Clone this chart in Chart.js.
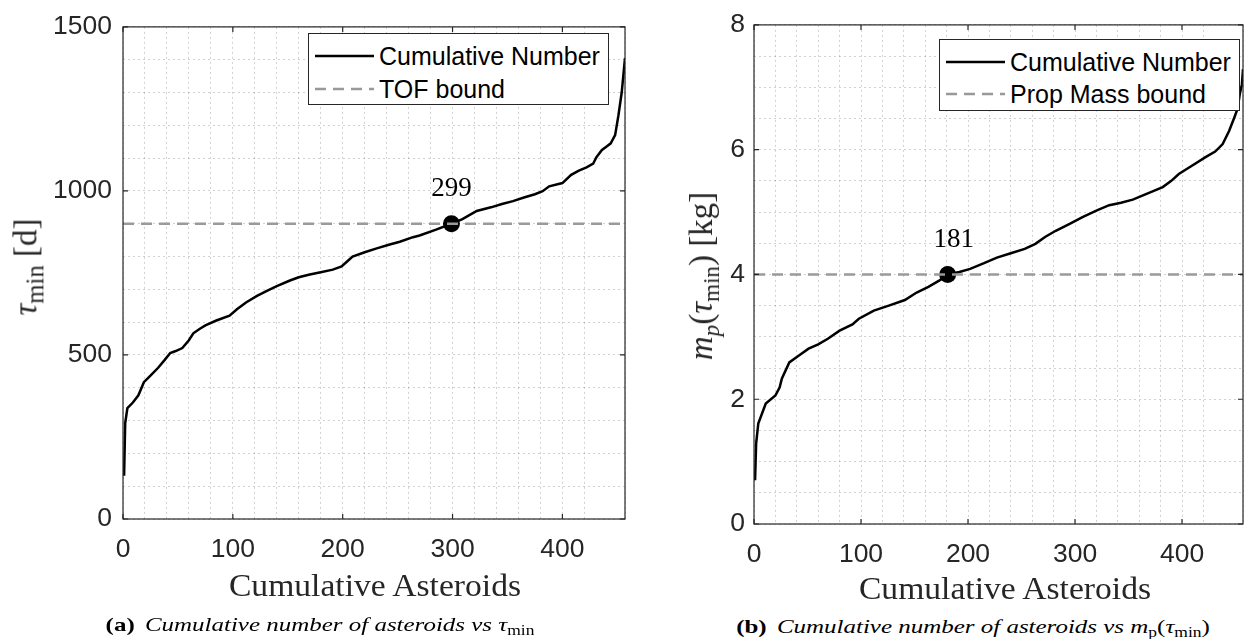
<!DOCTYPE html>
<html>
<head>
<meta charset="utf-8">
<script src="https://cdn.jsdelivr.net/npm/chart.js@4.4.0/dist/chart.umd.min.js"></script>
<style>
  html, body { margin: 0; padding: 0; background: #fff; }
  body { width: 1258px; height: 639px; position: relative; overflow: hidden; color: #262626; font-family: 'Liberation Serif', 'Times New Roman', serif; }
  canvas { display: block; position: absolute; top: 0; }
  .txt { position: absolute; white-space: nowrap; transform: translate(-50%, -50%); line-height: 1; }
  .ytitle { transform: translate(-50%, -50%) rotate(-90deg); font-size: 33px; }
  .axtitle { font-size: 32px; }
  .xtitle { transform: translate(-50%, -50%) scaleX(1.05); }
  .caption { font-size: 19.5px; color: #000; transform: translate(-50%, -50%) scaleX(1.28); }
  .caption b { font-style: normal; margin-right: 8px; }
  .caption i { font-style: italic; }
  .legend { position: absolute; background: #fff; border: 1px solid #262626; box-sizing: border-box; width: 301px; height: 72px;
            font-family: 'Liberation Sans', Arial, sans-serif; font-size: 25px; color: #000; z-index: 2; }
  .legend .row { position: absolute; left: 0; height: 32px; line-height: 32px; width: 100%; }
  .legend svg { position: absolute; left: 6px; top: 0; }
  .legend span { position: absolute; left: 70px; }
  sub { font-size: 0.7em; vertical-align: -0.3em; font-style: normal; }
  .ytitle.tau sub { font-size: 0.75em; }
</style>
</head>
<body>
<canvas id="chartTau" width="640" height="600" style="left:0"></canvas>
<canvas id="chartMass" width="618" height="600" style="left:640px"></canvas>

<div class="legend" style="left:308px; top:33px;">
  <div class="row" style="top:6px"><svg width="60" height="32"><line x1="0" y1="16" x2="59" y2="16" stroke="#000" stroke-width="2.5"/></svg><span>Cumulative Number</span></div>
  <div class="row" style="top:39px"><svg width="60" height="32"><line x1="0" y1="16" x2="59" y2="16" stroke="#999" stroke-width="2.5" stroke-dasharray="11 7"/></svg><span>TOF bound</span></div>
</div>
<div class="legend" style="left:939px; top:39px;">
  <div class="row" style="top:6px"><svg width="60" height="32"><line x1="0" y1="16" x2="59" y2="16" stroke="#000" stroke-width="2.5"/></svg><span>Cumulative Number</span></div>
  <div class="row" style="top:38px"><svg width="60" height="32"><line x1="0" y1="16" x2="59" y2="16" stroke="#999" stroke-width="2.5" stroke-dasharray="11 7"/></svg><span>Prop Mass bound</span></div>
</div>

<div class="txt ytitle tau" style="left:29px; top:267px;"><i>τ</i><sub>min</sub> [d]</div>
<div class="txt xtitle axtitle" style="left:375px; top:585px;">Cumulative Asteroids</div>
<div class="txt ytitle" style="left:704px; top:276px;"><i>m</i><sub><i>p</i></sub>(<i>τ</i><sub>min</sub>) [kg]</div>
<div class="txt xtitle axtitle" style="left:1005px; top:588px;">Cumulative Asteroids</div>

<div class="txt caption" style="left:320px; top:626px;"><b>(a)</b><i>Cumulative number of asteroids vs τ</i><sub>min</sub></div>
<div class="txt caption" style="left:973px; top:628px;"><b>(b)</b><i>Cumulative number of asteroids vs m<sub>p</sub></i>(<i>τ</i><sub>min</sub>)</div>

<script>
// asteroid count vs minimum time of flight (days)
const tauCount = [1, 2, 4, 9, 14, 19, 25, 32, 38, 43, 48, 54, 60, 64, 70, 75, 85, 97, 104, 112,
  122, 131, 140, 152, 160, 170, 180, 191, 199, 204, 209, 220, 231, 242, 252, 264, 270, 285, 299,
  309, 322, 335, 345, 355, 365, 375, 382, 388, 400, 408, 415, 422, 428, 431, 436, 440, 444, 448,
  451, 454, 457];
const tauMin = [132, 292, 338, 355, 377, 417, 437, 461, 485, 506, 512, 521, 545, 566, 580, 590,
  605, 620, 640, 660, 680, 695, 710, 727, 737, 745, 752, 760, 770, 785, 800, 813, 825, 836, 845,
  859, 864, 882, 900, 914, 939, 950, 960, 969, 980, 990, 999, 1014, 1024, 1049, 1062, 1072, 1083,
  1103, 1125, 1135, 1145, 1170, 1230, 1300, 1405];
const tofBound = 900;
const tofCrossing = 299;

// asteroid count vs propellant mass at tau_min (kg)
const massCount = [1, 2, 4, 11, 20, 24, 26, 33, 42, 51, 60, 69, 80, 92, 98, 112, 126, 141, 152,
  163, 173, 181, 192, 202, 215, 227, 240, 253, 263, 272, 282, 295, 307, 321, 332, 343, 354, 368,
  382, 390, 397, 410, 422, 431, 438, 444, 449, 452, 454, 456, 457];
const propMass = [0.70, 1.29, 1.61, 1.93, 2.06, 2.19, 2.33, 2.59, 2.70, 2.81, 2.88, 2.97, 3.10,
  3.20, 3.29, 3.42, 3.50, 3.59, 3.71, 3.80, 3.90, 4.00, 4.04, 4.09, 4.18, 4.27, 4.34, 4.41, 4.49,
  4.60, 4.70, 4.81, 4.92, 5.03, 5.11, 5.15, 5.20, 5.30, 5.40, 5.50, 5.61, 5.75, 5.88, 5.97, 6.09,
  6.30, 6.52, 6.66, 6.89, 7.05, 7.29];
const massBound = 4;
const massCrossing = 181;

const countMax = 457;
const countTicks = [0, 100, 200, 300, 400];
const tauTicks = [0, 500, 1000, 1500];
const massTicks = [0, 2, 4, 6, 8];

const AXIS_COLOR = '#262626';
const GRID_COLOR = 'rgba(0,0,0,0.18)';
const TICK_FONT = { family: "'Liberation Sans', Arial, sans-serif", size: 26.5 };

// box around the axes with inward major tick marks
const axesFrame = {
  id: 'axesFrame',
  afterDraw(chart, args, opts) {
    const { ctx, chartArea: a, scales: { x, y } } = chart;
    ctx.save();
    ctx.strokeStyle = AXIS_COLOR;
    ctx.lineWidth = 1.2;
    ctx.beginPath();
    opts.xMajor.forEach(v => {
      const px = x.getPixelForValue(v);
      ctx.moveTo(px, a.bottom); ctx.lineTo(px, a.bottom - 5);
      ctx.moveTo(px, a.top); ctx.lineTo(px, a.top + 5);
    });
    opts.yMajor.forEach(v => {
      const py = y.getPixelForValue(v);
      ctx.moveTo(a.left, py); ctx.lineTo(a.left + 5, py);
      ctx.moveTo(a.right, py); ctx.lineTo(a.right - 5, py);
    });
    ctx.stroke();
    ctx.strokeRect(a.left, a.top, a.right - a.left, a.bottom - a.top);
    ctx.restore();
  }
};

// value label above the crossing marker
const crossingLabel = {
  id: 'crossingLabel',
  afterDatasetsDraw(chart, args, opts) {
    const idx = opts.datasetIndex;
    const pt = chart.getDatasetMeta(idx).data[0];
    const value = chart.data.datasets[idx].data[0].x;
    const { ctx } = chart;
    ctx.save();
    ctx.font = "27px 'Liberation Serif', serif";
    ctx.fillStyle = '#000';
    ctx.textAlign = 'center';
    ctx.textBaseline = 'middle';
    ctx.fillText(String(value), pt.x + opts.dx, pt.y - 35);
    ctx.restore();
  }
};

function toPoints(xs, ys) {
  return xs.map((x, i) => ({ x, y: ys[i] }));
}

function buildChart(canvasId, cfg) {
  const ctx = document.getElementById(canvasId).getContext('2d');
  return new Chart(ctx, {
    type: 'scatter',
    data: {
      datasets: [
        {
          label: 'Cumulative Number',
          data: toPoints(cfg.xs, cfg.ys),
          showLine: true,
          borderColor: '#000',
          borderWidth: 2.5,
          pointRadius: 0,
          tension: 0,
          order: 2
        },
        {
          label: cfg.boundLabel,
          data: [{ x: 0, y: cfg.bound }, { x: countMax, y: cfg.bound }],
          showLine: true,
          borderColor: '#9a9a9a',
          borderWidth: 2.5,
          borderDash: [11, 7],
          pointRadius: 0,
          order: 0
        },
        {
          label: 'crossing',
          data: [{ x: cfg.crossing, y: cfg.bound }],
          pointRadius: 8.5,
          pointBackgroundColor: '#000',
          pointBorderColor: '#000',
          pointBorderWidth: 0,
          order: 1
        }
      ]
    },
    options: {
      responsive: false,
      animation: false,
      events: [],
      layout: { padding: cfg.padding },
      plugins: {
        legend: { display: false },
        tooltip: { enabled: false },
        axesFrame: { xMajor: countTicks, yMajor: cfg.yTicks },
        crossingLabel: { datasetIndex: 2, dx: cfg.labelDx }
      },
      scales: {
        x: {
          type: 'linear',
          min: 0,
          max: countMax,
          afterFit: s => { s.height = cfg.xAxisHeight; },
          border: { display: false, dash: [2, 3] },
          grid: { color: GRID_COLOR, lineWidth: 1, drawTicks: false },
          ticks: {
            stepSize: 20,
            autoSkip: false,
            maxRotation: 0,
            padding: 15,
            color: AXIS_COLOR,
            font: TICK_FONT,
            callback: v => countTicks.includes(v) ? String(v) : ''
          }
        },
        y: {
          type: 'linear',
          min: 0,
          max: cfg.yMax,
          afterFit: s => { s.width = cfg.yAxisWidth; },
          border: { display: false, dash: [2, 3] },
          grid: { color: GRID_COLOR, lineWidth: 1, drawTicks: false },
          ticks: {
            stepSize: cfg.yStep,
            autoSkip: false,
            padding: cfg.yPad,
            color: AXIS_COLOR,
            font: TICK_FONT,
            callback: v => cfg.yTicks.includes(v) ? String(v) : ''
          }
        }
      }
    },
    plugins: [axesFrame, crossingLabel]
  });
}

buildChart('chartTau', {
  xs: tauCount, ys: tauMin, bound: tofBound, crossing: tofCrossing,
  boundLabel: 'TOF bound', yMax: 1500, yStep: 100, yTicks: tauTicks,
  padding: { top: 17, right: 14, left: 0, bottom: 0 },
  yAxisWidth: 123, xAxisHeight: 81, yPad: 11, labelDx: 0
});

buildChart('chartMass', {
  xs: massCount, ys: propMass, bound: massBound, crossing: massCrossing,
  boundLabel: 'Prop Mass bound', yMax: 8, yStep: 0.5, yTicks: massTicks,
  padding: { top: 24, right: 3, left: 0, bottom: 0 },
  yAxisWidth: 114, xAxisHeight: 76, yPad: 9, labelDx: 6
});
</script>
</body>
</html>
